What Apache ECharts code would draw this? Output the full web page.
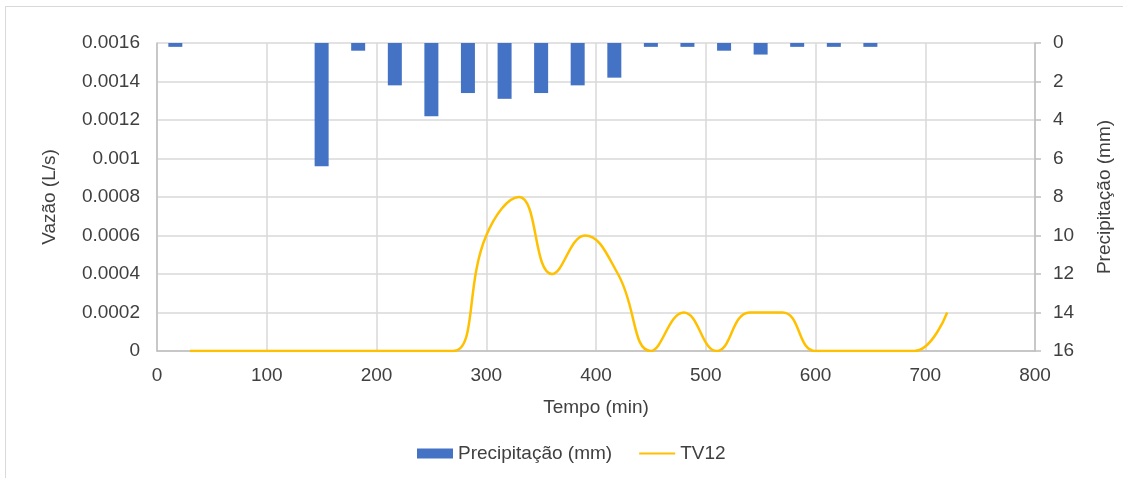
<!DOCTYPE html>
<html>
<head>
<meta charset="utf-8">
<script src="https://cdn.jsdelivr.net/npm/echarts@6/dist/echarts.min.js"></script>
<style>
  html, body { margin: 0; padding: 0; background: #fff; overflow: hidden; }
  #frame { position: absolute; left: 5px; top: 6px; width: 1300px; height: 700px; border: 1px solid #d9d9d9; }
  #chart { position: absolute; left: 0; top: 0; width: 1123px; height: 478px; }
</style>
</head>
<body>
<div id="frame"></div>
<div id="chart"></div>
<script>
// precipitação (barras, eixo direito invertido)
const rainTime = [16.7, 150, 183.3, 216.7, 250, 283.3, 316.7, 350, 383.3, 416.7, 450, 483.3, 516.7, 550, 583.3, 616.7, 650]
const rainMm = [0.2, 6.4, 0.4, 2.2, 3.8, 2.6, 2.9, 2.6, 2.2, 1.8, 0.2, 0.2, 0.4, 0.6, 0.2, 0.2, 0.2]

// vazão TV12
const flowTime = [30, 60, 90, 120, 150, 180, 210, 240, 270, 300, 330, 360, 390, 420, 450, 480, 510, 540, 570, 600, 630, 660, 690, 720]
const flowLs = [0, 0, 0, 0, 0, 0, 0, 0, 0, 0.0006, 0.0008, 0.0004, 0.0006, 0.0004, 0, 0.0002, 0, 0.0002, 0.0002, 0, 0, 0, 0, 0.0002]

const FONT = 'Arial, "Liberation Sans", sans-serif'
const TXT = '#404040'
const FS = 19

const chart = echarts.init(document.getElementById('chart'))

const option = {
  animation: false,
  textStyle: { fontFamily: FONT },
  grid: { left: 157, right: 88, top: 43, bottom: 127 },
  legend: {
    bottom: 10,
    left: 412,
    itemGap: 26,
    itemWidth: 36,
    itemHeight: 10,
    textStyle: { fontFamily: FONT, fontSize: FS, color: TXT },
    data: [
      { name: 'Precipitação (mm)', icon: 'rect' },
      { name: 'TV12', itemStyle: { opacity: 0 } }
    ]
  },
  xAxis: {
    type: 'value',
    min: 0,
    max: 800,
    interval: 100,
    name: 'Tempo (min)',
    nameLocation: 'middle',
    nameGap: 47,
    nameTextStyle: { fontFamily: FONT, fontSize: FS, color: TXT },
    axisLine: { show: true, lineStyle: { color: '#bfbfbf', width: 1.5 } },
    axisTick: { show: false },
    axisLabel: { fontFamily: FONT, fontSize: FS, color: TXT, margin: 15 },
    splitLine: { show: true, lineStyle: { color: '#d9d9d9', width: 1.5 } }
  },
  yAxis: [
    {
      type: 'value',
      min: 0,
      max: 0.0016,
      interval: 0.0002,
      name: 'Vazão (L/s)',
      nameLocation: 'middle',
      nameGap: 98,
      nameTextStyle: { fontFamily: FONT, fontSize: FS, color: TXT },
      axisLine: { show: true, lineStyle: { color: '#bfbfbf', width: 1.5 } },
      axisTick: { show: false },
      axisLabel: {
        fontFamily: FONT, fontSize: FS, color: TXT, margin: 17,
        formatter: v => String(+v.toFixed(6))
      },
      splitLine: { show: true, lineStyle: { color: '#d9d9d9', width: 1.5 } }
    },
    {
      type: 'value',
      min: 0,
      max: 16,
      interval: 2,
      inverse: true,
      name: 'Precipitação (mm)',
      nameLocation: 'middle',
      nameGap: 60,
      nameRotate: 90,
      nameTextStyle: { fontFamily: FONT, fontSize: FS, color: TXT },
      axisLine: { show: true, lineStyle: { color: '#bfbfbf', width: 1.5 } },
      axisTick: { show: true, length: 6, lineStyle: { color: '#bfbfbf', width: 1.5 } },
      axisLabel: { fontFamily: FONT, fontSize: FS, color: TXT, margin: 18 },
      splitLine: { show: false }
    }
  ],
  series: [
    {
      name: 'Precipitação (mm)',
      type: 'bar',
      yAxisIndex: 1,
      barWidth: 14,
      itemStyle: { color: '#4472c4' },
      data: rainTime.map((t, i) => [t, rainMm[i]])
    },
    {
      name: 'TV12',
      type: 'line',
      yAxisIndex: 0,
      smooth: 0.45,
      symbol: 'none',
      clip: true,
      lineStyle: { color: '#ffc000', width: 2.5 },
      itemStyle: { color: '#ffc000' },
      data: flowTime.map((t, i) => [t, flowLs[i]])
    }
  ]
}

chart.setOption(option)
</script>
</body>
</html>
